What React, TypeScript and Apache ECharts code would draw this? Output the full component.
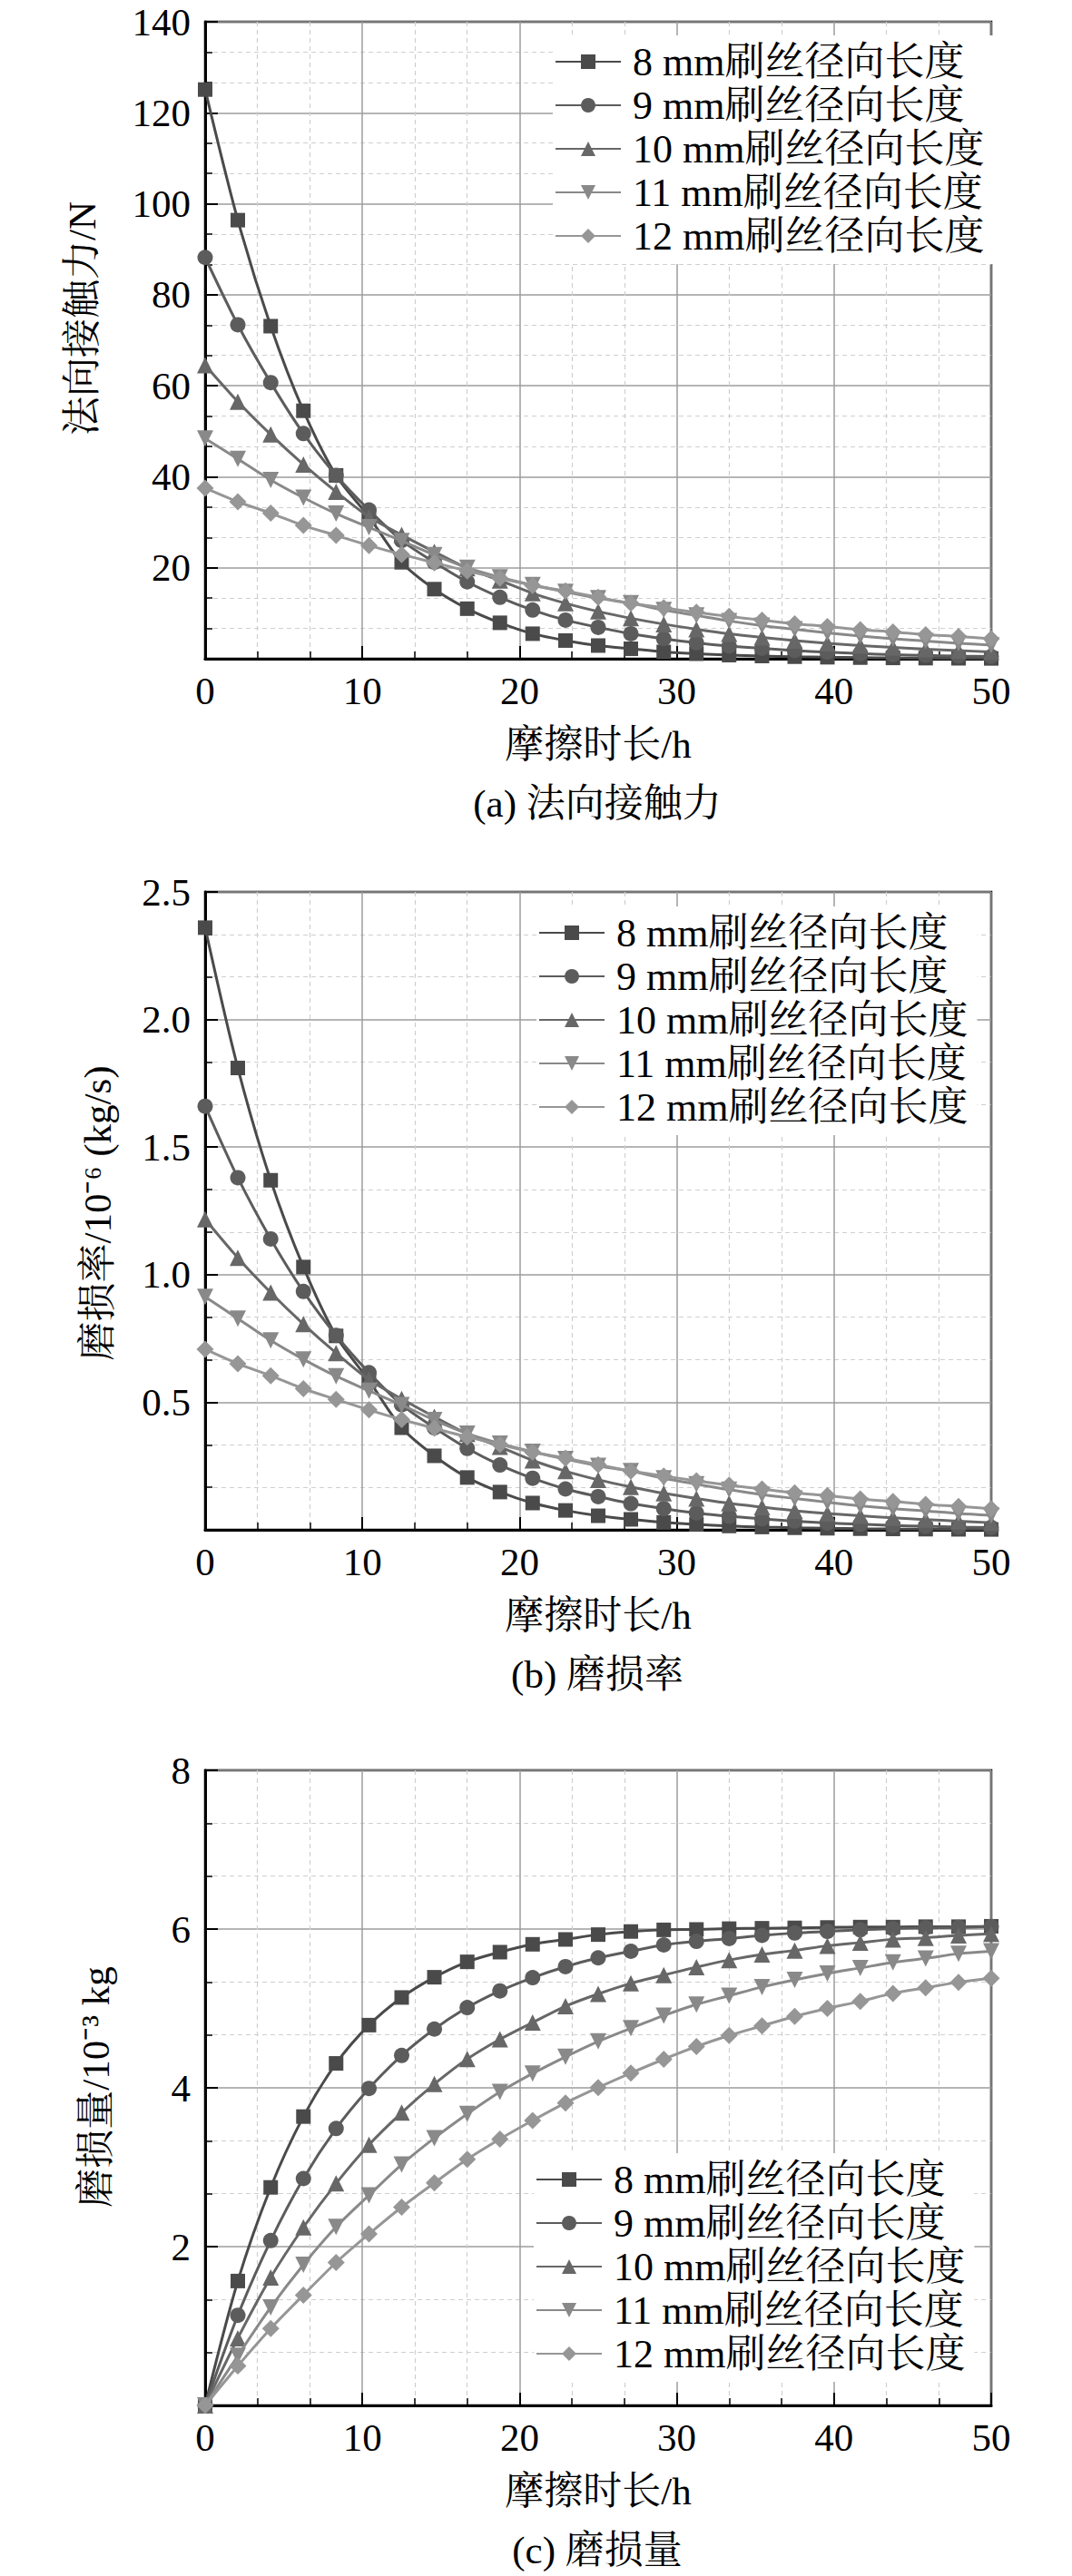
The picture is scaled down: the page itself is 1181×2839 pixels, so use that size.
import { useEffect, useRef } from 'react'
import * as echarts from 'echarts'

const FONT = 'Liberation Serif, Times New Roman, Noto Serif CJK SC, Noto Sans CJK SC, serif'

// friction time (h), shared by all three panels
const hours = [0, 2.08, 4.17, 6.25, 8.33, 10.42, 12.5, 14.58, 16.67, 18.75, 20.83, 22.92, 25,
  27.08, 29.17, 31.25, 33.33, 35.42, 37.5, 39.58, 41.67, 43.75, 45.83, 47.92, 50]

const names = ['8 mm刷丝径向长度', '9 mm刷丝径向长度', '10 mm刷丝径向长度', '11 mm刷丝径向长度', '12 mm刷丝径向长度']

// (a) normal contact force, N
const force8  = [125.1, 96.4, 73.1, 54.5, 40.3, 31.2, 21.2, 15.3, 11.0, 7.9, 5.5, 4.0, 2.9, 2.2, 1.5, 1.1, 0.8, 0.6, 0.45, 0.33, 0.25, 0.18, 0.13, 0.1, 0.07]
const force9  = [88.2, 73.4, 60.7, 49.5, 40.3, 32.7, 26.0, 21.2, 16.9, 13.5, 10.7, 8.5, 6.9, 5.5, 4.4, 3.5, 2.8, 2.3, 1.8, 1.45, 1.15, 0.9, 0.75, 0.6, 0.5]
const force10 = [64.5, 56.5, 49.3, 42.7, 36.7, 31.2, 27.2, 23.5, 19.9, 17.2, 14.4, 12.2, 10.4, 8.9, 7.6, 6.5, 5.5, 4.7, 4.0, 3.4, 2.9, 2.5, 2.1, 1.8, 1.5]
const force11 = [48.4, 43.9, 39.3, 35.4, 31.9, 28.9, 25.9, 22.8, 20.0, 17.9, 16.2, 14.7, 13.3, 12.2, 10.7, 9.5, 8.3, 7.3, 6.5, 5.7, 5.0, 4.4, 3.9, 3.4, 3.0]
const force12 = [37.5, 34.5, 32.0, 29.3, 27.1, 24.9, 22.9, 21.1, 19.3, 17.7, 16.1, 14.9, 13.5, 12.2, 11.2, 10.2, 9.3, 8.5, 7.7, 7.1, 6.4, 5.9, 5.3, 4.9, 4.4]

// (b) wear rate, 10^-6 kg/s
const rate8  = [2.36, 1.81, 1.37, 1.03, 0.76, 0.585, 0.40, 0.29, 0.205, 0.148, 0.105, 0.076, 0.055, 0.041, 0.029, 0.021, 0.015, 0.011, 0.008, 0.006, 0.0045, 0.0034, 0.0025, 0.0019, 0.0014]
const rate9  = [1.66, 1.38, 1.14, 0.934, 0.762, 0.616, 0.49, 0.40, 0.319, 0.254, 0.202, 0.16, 0.13, 0.103, 0.083, 0.066, 0.053, 0.043, 0.034, 0.027, 0.022, 0.017, 0.014, 0.011, 0.009]
const rate10 = [1.217, 1.066, 0.930, 0.806, 0.693, 0.589, 0.513, 0.443, 0.376, 0.325, 0.272, 0.230, 0.196, 0.168, 0.143, 0.123, 0.104, 0.089, 0.075, 0.064, 0.055, 0.047, 0.040, 0.034, 0.028]
const rate11 = [0.913, 0.828, 0.742, 0.668, 0.602, 0.545, 0.489, 0.430, 0.377, 0.338, 0.306, 0.277, 0.251, 0.230, 0.202, 0.179, 0.157, 0.138, 0.123, 0.108, 0.094, 0.083, 0.074, 0.064, 0.057]
const rate12 = [0.708, 0.651, 0.604, 0.553, 0.511, 0.470, 0.432, 0.398, 0.364, 0.334, 0.304, 0.281, 0.255, 0.230, 0.211, 0.192, 0.175, 0.160, 0.145, 0.134, 0.121, 0.111, 0.100, 0.092, 0.083]

// (c) wear amount, 10^-3 kg
const wear8  = [0, 1.567, 2.746, 3.638, 4.308, 4.790, 5.138, 5.393, 5.587, 5.709, 5.808, 5.869, 5.930, 5.969, 5.99, 5.995, 6.005, 6.01, 6.015, 6.02, 6.025, 6.025, 6.03, 6.03, 6.035]
const wear9  = [0, 1.135, 2.076, 2.857, 3.488, 3.992, 4.408, 4.740, 5.011, 5.221, 5.388, 5.526, 5.637, 5.720, 5.80, 5.845, 5.88, 5.92, 5.95, 5.97, 5.99, 6.005, 6.015, 6.02, 6.03]
const wear10 = [0, 0.847, 1.611, 2.243, 2.796, 3.283, 3.688, 4.048, 4.363, 4.612, 4.823, 5.028, 5.183, 5.316, 5.42, 5.52, 5.61, 5.68, 5.73, 5.79, 5.83, 5.87, 5.89, 5.92, 5.94]
const wear11 = [0, 0.626, 1.235, 1.772, 2.248, 2.647, 3.034, 3.367, 3.671, 3.948, 4.181, 4.391, 4.585, 4.751, 4.91, 5.05, 5.16, 5.27, 5.36, 5.44, 5.51, 5.58, 5.63, 5.69, 5.72]
const wear12 = [0, 0.498, 0.969, 1.390, 1.800, 2.159, 2.497, 2.802, 3.101, 3.355, 3.588, 3.809, 4.003, 4.186, 4.36, 4.52, 4.66, 4.78, 4.90, 5.00, 5.09, 5.19, 5.26, 5.33, 5.38]

const xTicks = { min: 0, max: 50, interval: 10 }

const panels = [
  { values: [force8, force9, force10, force11, force12], yMax: 140, yStep: 20, digits: 0,
    yTitle: '法向接触力/N', caption: '(a) 法向接触力' },
  { values: [rate8, rate9, rate10, rate11, rate12], yMax: 2.5, yStep: 0.5, digits: 1,
    yTitle: '磨损率/10⁻⁶ (kg/s)', caption: '(b) 磨损率' },
  { values: [wear8, wear9, wear10, wear11, wear12], yMax: 8, yStep: 2, digits: 0,
    yTitle: '磨损量/10⁻³ kg', caption: '(c) 磨损量' },
]

// layout of each panel on the page
const frames = [
  { top: 24, height: 702, legendLeft: 609, legendTop: 39, yTitleX: 90, yTitleY: 351 },
  { top: 983, height: 703, legendLeft: 591, legendTop: 999, yTitleX: 107, yTitleY: 1337 },
  { top: 1951, height: 700, legendLeft: 588, legendTop: 2373, yTitleX: 105, yTitleY: 2300 },
]

const colors  = ['#4a4a4a', '#5c5c5c', '#676767', '#898989', '#969696']
const symbols = ['rect', 'circle', 'triangle', 'triangle', 'diamond']
const rotates = [0, 0, 0, 180, 0]
const sizes   = [16, 17, 18, 18, 19]

export default function App() {
  const ref = useRef<HTMLDivElement>(null)

  useEffect(() => {
    if (!ref.current) return
    const chart = echarts.init(ref.current, undefined, { renderer: 'svg' })

    const left = 226, width = 866

    const grid = frames.map(f => ({
      left, width, top: f.top, height: f.height,
      show: true, borderColor: '#000', borderWidth: 2.5, backgroundColor: 'transparent',
    }))

    const tickStyle = {
      axisTick: { show: true, inside: true, length: 14, lineStyle: { color: '#000', width: 2 } },
      minorTick: { show: true, splitNumber: 3, length: 8, lineStyle: { color: '#000', width: 1.5 } },
      splitLine: { show: true, lineStyle: { color: '#9c9c9c', width: 1.5 } },
      minorSplitLine: { show: true, lineStyle: { color: '#cfcfcf', width: 1.2, type: [5, 4] } },
      axisLine: { show: true, onZero: false, lineStyle: { color: '#000', width: 3 } },
    }

    const xAxis = frames.map((_, i) => ({
      type: 'value', gridIndex: i, ...xTicks,
      ...tickStyle,
      axisLabel: { color: '#000', fontFamily: FONT, fontSize: 43, margin: 14 },
    }))

    const yAxis = panels.map((p, i) => ({
      type: 'value', gridIndex: i, min: 0, max: p.yMax, interval: p.yStep,
      ...tickStyle,
      axisLabel: {
        color: '#000', fontFamily: FONT, fontSize: 43, margin: 16,
        formatter: (v: number) => (v === 0 ? '' : v.toFixed(p.digits)),
      },
    }))

    const series: any[] = []
    panels.forEach((p, pi) => {
      p.values.forEach((vals, si) => {
        series.push({
          type: 'line', name: names[si], xAxisIndex: pi, yAxisIndex: pi,
          data: hours.map((h, k) => [h, vals[k]]),
          symbol: symbols[si], symbolSize: sizes[si], symbolRotate: rotates[si],
          smooth: 0.3, clip: false,
          lineStyle: { color: colors[si], width: 3 },
          itemStyle: { color: colors[si] },
          z: 3 + si,
        })
      })
    })

    const legend = frames.map(f => ({
      orient: 'vertical', left: f.legendLeft, top: f.legendTop,
      itemWidth: 72, itemHeight: 20, itemGap: 2,
      padding: [6, 10, 8, 2], backgroundColor: '#fff',
      selectedMode: false,
      textStyle: { color: '#000', fontFamily: FONT, fontSize: 44, lineHeight: 46, padding: [0, 0, 0, 8] },
      data: names,
    }))

    const textStyle = (text: string, size: number) => ({
      text, fill: '#000', fontFamily: FONT, fontSize: size,
      textAlign: 'center', textVerticalAlign: 'middle',
    })

    const graphic: any[] = []
    frames.forEach((f, i) => {
      const bottom = f.top + f.height
      graphic.push({ type: 'text', x: f.yTitleX, y: f.yTitleY, rotation: Math.PI / 2, style: textStyle(panels[i].yTitle, 43) })
      graphic.push({ type: 'text', x: 659, y: bottom + 94, style: textStyle('摩擦时长/h', 43) })
      graphic.push({ type: 'text', x: 658, y: bottom + 159, style: textStyle(panels[i].caption, 43) })
    })

    chart.setOption({
      animation: false,
      backgroundColor: '#fff',
      grid, xAxis, yAxis, series, legend, graphic,
    })

    return () => { chart.dispose() }
  }, [])

  return <div ref={ref} style={{ position: 'absolute', left: 0, top: 0, width: 1181, height: 2839 }} />
}
